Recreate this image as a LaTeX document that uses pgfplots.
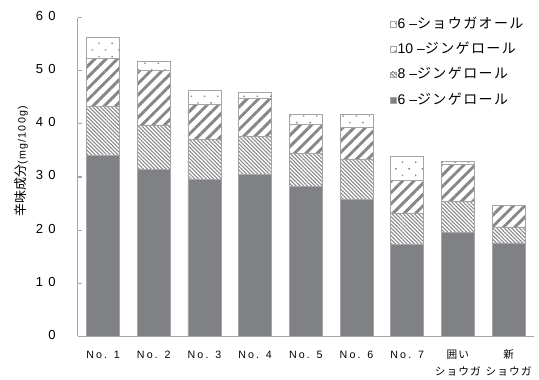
\documentclass[border=0pt]{standalone}
\usepackage{fontspec}
\setmainfont{Liberation Sans}
\newfontfamily\cjk{Noto Sans CJK JP}
\newfontfamily\cjksp[LetterSpace=10]{Noto Sans CJK JP}
\newfontfamily\latsp[LetterSpace=40]{Liberation Sans}
\newfontfamily\latspx[LetterSpace=20]{Liberation Sans}
\newfontfamily\latspb[LetterSpace=12]{Liberation Sans}
\usepackage{pgfplots}
\usepackage{pgfplotstable}
\pgfplotsset{compat=1.18}
\usetikzlibrary{patterns.meta}
\definecolor{dg}{RGB}{128,129,133}
\definecolor{hg}{RGB}{135,135,138}
\definecolor{eg}{RGB}{165,165,168}
\pgfplotsset{myleg/.style={legend image code/.code={\draw[##1,line width=0.5pt] (0pt,-2pt) rectangle (4.2pt,2.2pt);}}}
\pgfplotstableread{
x g6 g8 g10 s6
0 34.0 9.2 9.1 3.9
1 31.4 8.4 10.3 1.7
2 29.5 7.6 6.6 2.6
3 30.4 7.3 7.0 1.2
4 28.3 6.2 5.4 1.8
5 25.7 7.7 5.9 2.5
6 17.4 5.8 6.1 4.6
7 19.5 6.0 6.9 0.5
8 17.6 3.0 4.1 0.0
}\data
\begin{document}
\begin{tikzpicture}
\begin{axis}[
  scale only axis, width=342.2pt, height=239.25pt,
  xmin=-0.5, xmax=8.5, ymin=0, ymax=60, clip=false,
  ybar stacked, bar width=0.65,
  axis lines=left, axis line style={-, draw=eg, line width=0.8pt},
  tick align=inside, major tick length=3pt,
  ytick={0,10,...,60}, yticklabels={0,10,20,30,40,50,60},
  ytick style={draw=eg, line width=0.8pt},
  xtick={0,...,8}, xtick style={draw=none},
  xticklabels={No. 1,No. 2,No. 3,No. 4,No. 5,No. 6,No. 7,{{\cjksp 囲い}\\{\cjksp ショウガ}},{{\cjksp 新}\\{\cjksp ショウガ}}},
  typeset ticklabels with strut,
  yticklabel style={font=\latsp\fontsize{9.8}{11}\selectfont, anchor=east, xshift=-13pt},
  xticklabel style={font=\latspx\fontsize{8}{12.75}\selectfont, align=center, anchor=north, inner sep=0pt, yshift=-7.4pt},
  reverse legend,
  legend cell align=left,
  legend style={at={(axis description cs:0.684,1.005)}, anchor=north west, draw=none, fill=none, inner sep=0pt,
    font=\fontsize{10.5}{12}\selectfont, row sep=7pt, nodes={inner sep=1pt, text height=8pt, text depth=2pt},
    /tikz/every even column/.append style={column sep=0pt}},
]
\addplot[fill=dg, draw=eg, line width=0.6pt, myleg] table[x=x,y=g6]{\data};
\addplot[pattern={Lines[angle=-45,distance=2pt,line width=0.8pt]}, pattern color=hg, draw=eg, line width=0.6pt, myleg] table[x=x,y=g8]{\data};
\addplot[pattern={Lines[angle=45,distance=6pt,line width=2.2pt]}, pattern color=hg, draw=eg, line width=0.6pt, myleg] table[x=x,y=g10]{\data};
\addplot[pattern={Dots[angle=45,distance=7pt,radius=0.75pt]}, pattern color=hg, draw=eg, line width=0.6pt, myleg] table[x=x,y=s6]{\data};
\legend{{6 –{\cjksp ジンゲロール}},{8 –{\cjksp ジンゲロール}},{10 –{\cjksp ジンゲロール}},{6 –{\cjksp ショウガオール}}}
\node[rotate=90, anchor=center, inner sep=0pt] at (axis description cs:-0.124,0.549) {{\cjk\fontsize{9.75}{11}\selectfont 辛味成分}{\latspb\fontsize{8}{11}\selectfont (mg/100g)}};
\end{axis}
\pgfresetboundingbox
\path (-58.3pt,-32.6pt) rectangle (346pt,252.4pt);
\end{tikzpicture}
\end{document}
